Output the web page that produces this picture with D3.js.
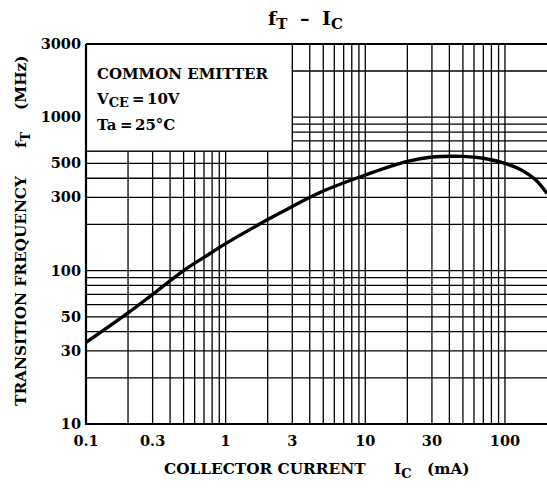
<!DOCTYPE html>
<html><head><meta charset="utf-8">
<script src="https://cdn.jsdelivr.net/npm/d3@7/dist/d3.min.js"></script>
<style>body{margin:0;background:#fff}svg text{font-family:"DejaVu Serif",serif;font-weight:bold;fill:#000}</style>
</head><body><svg id="c" width="547" height="491"></svg>
<script>
const icValues = [0.1, 0.2, 0.3, 0.5, 0.7, 1, 2, 3, 5, 10, 20, 30, 50, 70, 100, 130, 165, 200];
const ftValues = [34, 53, 70, 100, 122, 150, 215, 262, 330, 420, 515, 550, 555, 540, 500, 455, 392, 318];
const xTickLabels = [0.1, 0.3, 1, 3, 10, 30, 100];
const yTickLabels = [10, 30, 50, 100, 300, 500, 1000, 3000];
const xGrid = [0.2,0.3,0.4,0.5,0.6,0.7,0.8,0.9,1,2,3,4,5,6,7,8,9,10,20,30,40,50,60,70,80,90,100];
const yGrid = [20,30,40,50,60,70,80,90,100,200,300,400,500,600,700,800,900,1000,2000];

const svg = d3.select("#c");
const L=86, R=547, T=44, B=424;
const x = d3.scaleLog().domain([0.1,200]).range([L,R]);
const y = d3.scaleLog().domain([10,3000]).range([B,T]);

const g = svg.append("g");
g.selectAll(".vg").data(xGrid).join("line")
  .attr("x1",d=>x(d)).attr("x2",d=>x(d)).attr("y1",B).attr("y2",T)
  .attr("stroke","#000").attr("stroke-width",1.3);
g.selectAll(".hg").data(yGrid).join("line")
  .attr("x1",L).attr("x2",R).attr("y1",d=>y(d)).attr("y2",d=>y(d))
  .attr("stroke","#000").attr("stroke-width",1.3);

// annotation box (covers grid)
g.append("rect").attr("x",x(0.1)).attr("y",y(3000)).attr("width",x(3)-x(0.1)).attr("height",y(600)-y(3000))
  .attr("fill","#fff");
g.append("path").attr("d",`M${x(0.1)},${y(600)}H${x(3)}V${y(3000)}`).attr("fill","none").attr("stroke","#000").attr("stroke-width",1.3);

// frame
svg.append("path").attr("d",`M${L},${T}H${R}M${L},${T}V${B}H${R}`).attr("fill","none").attr("stroke","#000").attr("stroke-width",2.2);

// curve
const line = d3.line().x((d,i)=>x(icValues[i])).y(d=>y(d)).curve(d3.curveCatmullRom);
svg.append("path").attr("d",line(ftValues)).attr("fill","none").attr("stroke","#000").attr("stroke-width",3.4);

// tick labels
svg.selectAll(".xt").data(xTickLabels).join("text")
  .attr("x",d=>x(d)).attr("y",446).attr("text-anchor","middle").attr("font-size",14.5).text(d=>d);
svg.selectAll(".yt").data(yTickLabels).join("text")
  .attr("x",81).attr("y",d=>y(d)+5).attr("text-anchor","end").attr("font-size",14.5).text(d=>d);

// title
const t = svg.append("text").attr("y",25).attr("font-size",19);
t.append("tspan").attr("x",268).text("f");
t.append("tspan").attr("font-size",15).attr("dy",4).text("T");
t.append("tspan").attr("x",300).attr("dy",-4).text("–");
t.append("tspan").attr("x",322).text("I");
t.append("tspan").attr("font-size",15).attr("dy",4).text("C");

// box text
svg.append("text").attr("x",97).attr("y",79).attr("font-size",15).text("COMMON EMITTER");
const v = svg.append("text").attr("y",104).attr("font-size",15);
v.append("tspan").attr("x",97).text("V");
v.append("tspan").attr("font-size",13).attr("dy",3).text("CE");
v.append("tspan").attr("x",132).attr("dy",-3).text("=");
v.append("tspan").attr("x",147).text("10V");
const ta = svg.append("text").attr("y",130).attr("font-size",15);
ta.append("tspan").attr("x",97).text("Ta");
ta.append("tspan").attr("x",120).text("=");
ta.append("tspan").attr("x",135).text("25°C");

// x title
const xt = svg.append("text").attr("y",474).attr("font-size",15.3);
xt.append("tspan").attr("x",164).text("COLLECTOR CURRENT");
xt.append("tspan").attr("x",394).text("I");
xt.append("tspan").attr("font-size",13).attr("dy",4).text("C");
xt.append("tspan").attr("x",427).attr("dy",-4).text("(mA)");

// y title
const yt = svg.append("text").attr("transform","translate(26,0) rotate(-90)").attr("font-size",15.3);
yt.append("tspan").attr("x",-406).attr("y",0).text("TRANSITION FREQUENCY");
yt.append("tspan").attr("x",-148).text("f");
yt.append("tspan").attr("font-size",13).attr("dy",4).text("T");
yt.append("tspan").attr("x",-110).attr("dy",-4).text("(MHz)");
</script></body></html>
